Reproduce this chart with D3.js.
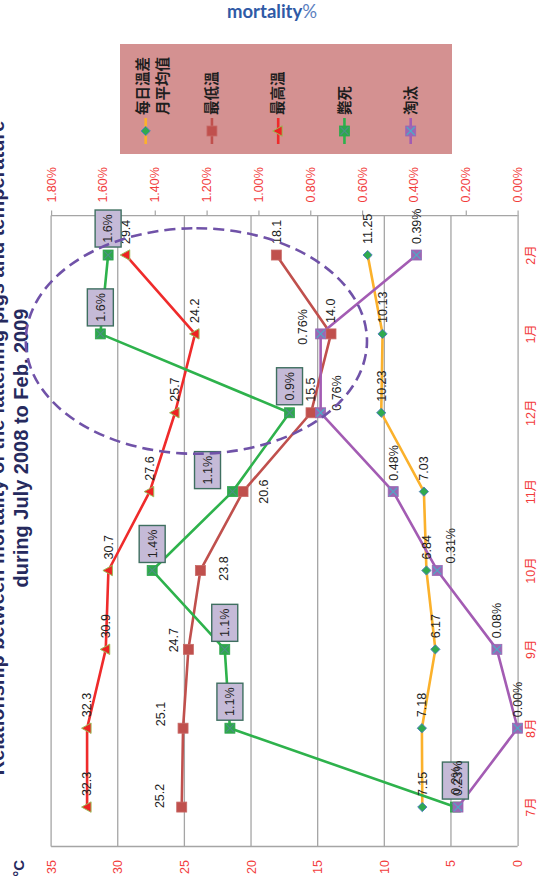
<!DOCTYPE html>
<html>
<head>
<meta charset="utf-8">
<script src="https://cdn.jsdelivr.net/npm/d3@7"></script>
<style>
  body { margin: 0; background: #fff; }
  svg { display: block; }
</style>
</head>
<body>
<script>
// ---- data ----
const months = ["7月", "8月", "9月", "10月", "11月", "12月", "1月", "2月"];
const diurnalRange = [7.15, 7.18, 6.17, 6.84, 7.03, 10.23, 10.13, 11.25];   // 每日溫差月平均值 (°C)
const minTemp = [25.2, 25.1, 24.7, 23.8, 20.6, 15.5, 14.0, 18.1];          // 最低溫 (°C)
const maxTemp = [32.3, 32.3, 30.9, 30.7, 27.6, 25.7, 24.2, 29.4];          // 最高溫 (°C)
const deathRate = [0.0024, 0.0111, 0.0113, 0.0141, 0.0110, 0.0088, 0.0161, 0.0158]; // 斃死
const cullRate = [0.0023, 0.0000, 0.0008, 0.0031, 0.0048, 0.0076, 0.0076, 0.0039];  // 淘汰
const tempTicks = [0, 5, 10, 15, 20, 25, 30, 35];
const rateTicks = [0, 0.002, 0.004, 0.006, 0.008, 0.010, 0.012, 0.014, 0.016, 0.018];
const seriesNames = [["每日溫差", "月平均值"], ["最低溫"], ["最高溫"], ["斃死"], ["淘汰"]];
const titleLines = [
  "Relationship between mortality of the fattening pigs and temperature",
  "during July 2008 to Feb. 2009"
];

// ---- layout (the chart is laid out landscape, then turned a quarter turn) ----
const W = 882, H = 547;
const RED = "#f23c3c";
const GRID = "#a5a5a5";
const LATIN = "'Liberation Sans', Arial, 'Noto Sans CJK TC', sans-serif";
const CJK = "'Noto Sans CJK TC', 'Noto Sans CJK SC', sans-serif";

const svg = d3.select("body").append("svg").attr("width", H).attr("height", W);
svg.append("rect").attr("width", H).attr("height", W).attr("fill", "#fff");
const g = svg.append("g").attr("transform", `translate(0,${W}) rotate(-90)`);

const plot = { left: 35.5, right: 666.4, top: 51.1, bottom: 517.6 };
const x = d3.scaleBand().domain(months).range([plot.left, plot.right]);
const cx = m => x(m) + x.bandwidth() / 2;
const yT = d3.scaleLinear().domain([0, 35]).range([plot.bottom, plot.top]);
const yR = d3.scaleLinear().domain([0, 0.018]).range([plot.bottom, plot.top]);

// gridlines
g.append("g").selectAll("line").data(tempTicks.filter(t => t > 0)).join("line")
  .attr("x1", plot.left).attr("x2", plot.right)
  .attr("y1", d => yT(d)).attr("y2", d => yT(d))
  .attr("stroke", GRID).attr("stroke-width", 1.3);

// frame sides
g.append("line").attr("x1", plot.left).attr("x2", plot.left).attr("y1", plot.top).attr("y2", plot.bottom)
  .attr("stroke", GRID).attr("stroke-width", 1.3);
g.append("line").attr("x1", plot.right).attr("x2", plot.right).attr("y1", plot.top).attr("y2", plot.bottom)
  .attr("stroke", GRID).attr("stroke-width", 1.3);

// axes
const axL = g.append("g").attr("transform", `translate(${plot.left},0)`)
  .call(d3.axisLeft(yT).tickValues(tempTicks).tickSize(0).tickPadding(13.5).tickFormat(d3.format("d")));
const axR = g.append("g").attr("transform", `translate(${plot.right},0)`)
  .call(d3.axisRight(yR).tickValues(rateTicks).tickSize(5).tickPadding(8).tickFormat(d3.format(".2%")));
const axB = g.append("g").attr("transform", `translate(0,${plot.bottom})`)
  .call(d3.axisBottom(x).tickSize(0).tickPadding(9));
[axL, axR, axB].forEach(a => {
  a.select(".domain").attr("stroke", GRID).attr("stroke-width", 1.3);
  a.selectAll(".tick line").attr("stroke", GRID).attr("stroke-width", 1.2);
  a.selectAll("text").attr("fill", RED).style("font-family", LATIN).style("font-size", "12.5px");
});
axL.select(".domain").remove();
axR.select(".domain").remove();

// unit label
g.append("text").attr("x", 22).attr("y", 24).attr("text-anchor", "end")
  .attr("fill", "#262a5e").style("font-family", LATIN).style("font-size", "15px").style("font-weight", "bold")
  .text("°C");

// ---- series ----
const series = [
  { key: "range", values: diurnalRange, scale: yT, color: "#fbb12b", marker: "diamond",
    fill: "#2faa4f", edge: "#4f81bd", fmt: d3.format(".2f") },
  { key: "min", values: minTemp, scale: yT, color: "#c0504d", marker: "square",
    fill: "#c0504d", edge: "#c86b68", fmt: d3.format(".1f") },
  { key: "max", values: maxTemp, scale: yT, color: "#ef2b2b", marker: "triangle",
    fill: "#ee2222", edge: "#9bbb59", fmt: d3.format(".1f") },
  { key: "death", values: deathRate, scale: yR, color: "#2eb24c", marker: "xsquare",
    fill: "#2ea84c", edge: "#2ea84c", cross: "#4d8f86", fmt: d3.format(".1%"), boxed: true },
  { key: "cull", values: cullRate, scale: yR, color: "#a35cb3", marker: "xsquare",
    fill: "#9a68b4", edge: "#9a68b4", cross: "#4bacc6", fmt: d3.format(".2%") }
];

function drawMarker(sel, s, px, py) {
  const m = sel.append("g").attr("transform", `translate(${px},${py})`);
  if (s.marker === "diamond") {
    m.append("path").attr("d", "M0,-4.6L4.6,0L0,4.6L-4.6,0Z")
      .attr("fill", s.fill).attr("stroke", s.edge).attr("stroke-width", 1);
  } else if (s.marker === "square") {
    m.append("rect").attr("x", -5).attr("y", -5).attr("width", 10).attr("height", 10)
      .attr("fill", s.fill).attr("stroke", s.edge).attr("stroke-width", 0.8);
  } else if (s.marker === "triangle") {
    m.append("path").attr("d", "M0,-5.5L5.2,4L-5.2,4Z")
      .attr("fill", s.fill).attr("stroke", s.edge).attr("stroke-width", 1);
  } else {
    m.append("rect").attr("x", -5).attr("y", -5).attr("width", 10).attr("height", 10)
      .attr("fill", s.fill).attr("stroke", s.edge).attr("stroke-width", 0.8);
    m.append("path").attr("d", "M-4,-4L4,4M4,-4L-4,4")
      .attr("stroke", s.cross).attr("stroke-width", 1.1);
  }
}

const line = d3.line();
series.forEach(s => {
  const pts = months.map((m, i) => [cx(m), s.scale(s.values[i])]);
  g.append("path").attr("d", line(pts)).attr("fill", "none")
    .attr("stroke", s.color).attr("stroke-width", 2.6).attr("stroke-linejoin", "round");
});
series.forEach(s => {
  const mg = g.append("g");
  months.forEach((m, i) => drawMarker(mg, s, cx(m), s.scale(s.values[i])));
});

// ---- data labels ----
const labelShift = {
  "min|11月": { dx: 0, dy: 21, anchor: "middle" },
  "min|10月": { dx: 2, dy: 23, anchor: "middle" },
  "min|9月": { dx: -3, dy: -15, anchor: "start" },
  "min|8月": { dx: 2, dy: -22, anchor: "start" },
  "min|7月": { dx: -1, dy: -22, anchor: "start" },
  "cull|1月": { dx: 7, dy: -18, anchor: "middle" },
  "cull|12月": { dx: 2, dy: 16, anchor: "start" },
  "cull|10月": { dx: 7, dy: 13, anchor: "start" },
  "death|11月": { dx: 3, dy: -25, anchor: "start" }
};
const labelLayer = g.append("g").style("font-family", LATIN).style("font-size", "12.5px");
series.forEach(s => {
  months.forEach((m, i) => {
    const px = cx(m), py = s.scale(s.values[i]);
    const sh = labelShift[`${s.key}|${m}`] || { dx: s.boxed ? 8 : 11, dy: 0, anchor: "start" };
    const txt = s.fmt(s.values[i]);
    if (s.boxed) {
      const bw = 37, bh = 26;
      const bx = px + sh.dx, by = py + sh.dy - bh / 2;
      labelLayer.append("rect").attr("x", bx).attr("y", by).attr("width", bw).attr("height", bh)
        .attr("fill", "#c5bad7").attr("stroke", "#3f6f60").attr("stroke-width", 1.4);
      labelLayer.append("text").attr("x", bx + bw / 2).attr("y", by + bh / 2).attr("dy", "0.35em")
        .attr("text-anchor", "middle").attr("fill", "#222").text(txt);
    } else {
      labelLayer.append("text").attr("x", px + sh.dx).attr("y", py + sh.dy).attr("dy", "0.35em")
        .attr("text-anchor", sh.anchor).attr("fill", "#222").text(txt);
    }
  });
});

// ---- legend ----
const leg = g.append("g");
leg.append("rect").attr("x", 728).attr("y", 120).attr("width", 110).attr("height", 332).attr("fill", "#d49191");
const legY = d3.scalePoint().domain(d3.range(series.length)).range([145.7, 410.7]);
series.forEach((s, i) => {
  const ly = legY(i);
  leg.append("line").attr("x1", 738).attr("x2", 764).attr("y1", ly).attr("y2", ly)
    .attr("stroke", s.color).attr("stroke-width", 2.6);
  drawMarker(leg, s, 751, ly);
  const names = seriesNames[i];
  names.forEach((t, k) => {
    const ty = names.length > 1 ? ly - 3 + k * 20 : ly;
    leg.append("text").attr("x", 767).attr("y", ty).attr("dy", "0.36em")
      .attr("fill", "#1e1e1e").style("font-family", CJK).style("font-size", "14.5px").style("font-weight", "bold")
      .text(t);
  });
});

// ---- title ----
const titleBase = [3.5, 27.5];
titleLines.forEach((t, i) => {
  g.append("text").attr("x", 434).attr("y", titleBase[i]).attr("text-anchor", "middle")
    .attr("fill", "#262a5e").style("font-family", LATIN).style("font-size", "20px").style("font-weight", "bold")
    .text(t);
});

// ---- highlight ring around the winter months ----
g.append("ellipse")
  .attr("cx", cx("1月") - 0.09 * x.bandwidth())
  .attr("cy", yT(24.1))
  .attr("rx", 1.43 * x.bandwidth())
  .attr("ry", yT(0) - yT(12.8))
  .attr("fill", "none").attr("stroke", "#7052a8").attr("stroke-width", 2.6)
  .attr("stroke-dasharray", "11,6");

// ---- secondary axis caption (upright) ----
const cap = svg.append("text").attr("x", 227).attr("y", 18)
  .style("font-family", "Lato, 'Open Sans', sans-serif").style("font-size", "18.5px");
cap.append("tspan").attr("fill", "#2f5aa6").style("font-weight", "bold").text("mortality");
cap.append("tspan").attr("fill", "#5b7fc0").style("font-weight", "normal").text("%");
</script>
</body>
</html>
